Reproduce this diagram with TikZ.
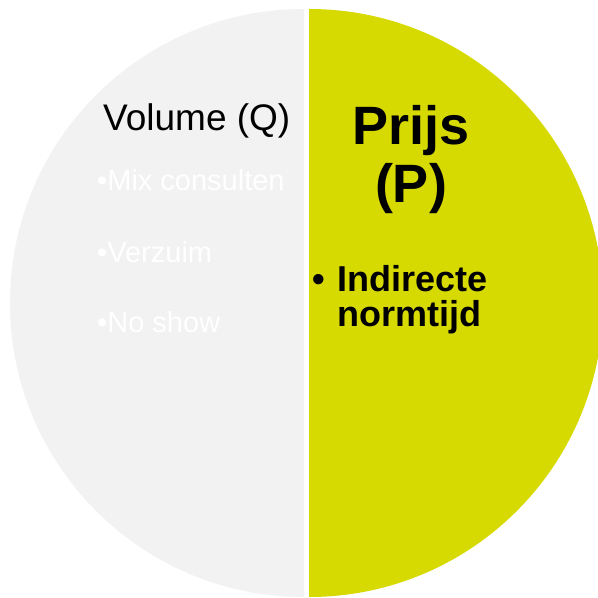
\documentclass[tikz,border=0pt]{standalone}
\usepackage{fontspec}
\setmainfont{Liberation Sans}
\definecolor{lgrey}{HTML}{F2F2F2}
\definecolor{lime}{HTML}{D7DA00}
\tikzset{
  txt/.style={anchor=base west, inner sep=0pt},
  qtitle/.style={txt, font=\fontsize{37}{37}\selectfont, text=black},
  qitem/.style={txt, font=\fontsize{29}{29}\selectfont, text=white},
  ptitle/.style={anchor=base, inner sep=0pt, font=\bfseries\fontsize{54}{54}\selectfont, text=black},
  pitem/.style={txt, font=\bfseries\fontsize{36}{36}\selectfont, text=black}
}
\begin{document}
\begin{tikzpicture}[x=1pt,y=1pt]
\useasboundingbox (0,0) rectangle (598,598);
\clip (0,0) rectangle (598,598);
\fill[white] (0,0) rectangle (598,598);
% halves
\fill[lgrey] (304,589) arc[start angle=90, end angle=270, radius=294] -- cycle;
\fill[lime] (309,589) arc[start angle=90, end angle=-90, radius=294] -- cycle;
% left texts
\node[qtitle] (vol) at (103,467) {Volume (Q)};
\node[qitem] (mix) at (97,407) {•Mix consulten};
\node[qitem] (verz) at (97,335) {•Verzuim};
\node[qitem] (nos) at (97,265) {•No show};
% right texts
\node[ptitle] (prijs) at (411,453) {Prijs};
\node[ptitle] (pp) at (411,395) {(P)};
\node[pitem] (bul) at (312,306) {•};
\node[pitem] (ind) at (337,306) {Indirecte};
\node[pitem] (norm) at (337,271) {normtijd};
\end{tikzpicture}
\end{document}
